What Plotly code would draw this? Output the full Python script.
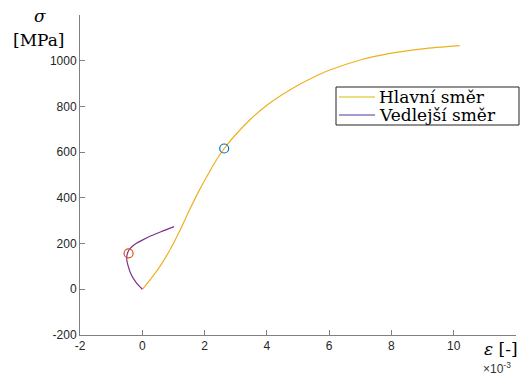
import plotly.graph_objects as go

# Data (strain in 1e-3, stress in MPa)
main_eps = [0, 0.3, 0.6, 0.9, 1.2, 1.5, 1.8, 2.1, 2.4, 2.63, 2.98, 3.46, 4.0, 4.5, 5.0, 5.5, 6.0, 7.0, 8.0, 9.0, 10.19]
main_sig = [0, 50, 107, 175, 255, 342, 425, 500, 570, 616, 674, 742, 805, 852, 893, 928, 958, 1003, 1033, 1052, 1066]

side_eps = [0, -0.2, -0.35, -0.45, -0.5, -0.47, -0.38, -0.2, 0.0, 0.3, 0.6, 1.02]
side_sig = [0, 30, 62, 100, 135, 160, 180, 200, 215, 235, 252, 274]

main_mark_eps = [2.63]
main_mark_sig = [616]
side_mark_eps = [-0.44]
side_mark_sig = [157]

x_ticks = [-2, 0, 2, 4, 6, 8, 10]
x_labels = ["-2", "0", "2", "4", "6", "8", "10"]
x_extra_ticks = [12]
y_ticks = [-200, 0, 200, 400, 600, 800, 1000]
y_labels = ["-200", "0", "200", "400", "600", "800", "1000"]
y_extra_ticks = [1200]

series_names = ["Hlavní směr", "Vedlejší směr"]
line_colors = ["#EDB120", "#7E2F8E"]
legend_colors = ["#D4C000", "#4B3A9E"]

fig = go.Figure()
fig.add_trace(go.Scatter(x=main_eps, y=main_sig, mode="lines", name=series_names[0],
                         line=dict(color=line_colors[0], width=1.2, shape="spline", smoothing=0.8),
                         showlegend=False))
fig.add_trace(go.Scatter(x=side_eps, y=side_sig, mode="lines", name=series_names[1],
                         line=dict(color=line_colors[1], width=1.2, shape="spline", smoothing=0.8),
                         showlegend=False))
fig.add_trace(go.Scatter(x=main_mark_eps, y=main_mark_sig, mode="markers",
                         marker=dict(symbol="circle-open", size=9, color="#0072BD", line=dict(width=1.2)),
                         showlegend=False))
fig.add_trace(go.Scatter(x=side_mark_eps, y=side_mark_sig, mode="markers",
                         marker=dict(symbol="circle-open", size=9, color="#D95319", line=dict(width=1.2)),
                         showlegend=False))

axis_common = dict(showgrid=False, zeroline=False, showline=True, linecolor="#808080", linewidth=1,
                   ticks="inside", ticklen=5, tickcolor="#808080", mirror=False,
                   tickfont=dict(family="Liberation Sans, Arial, sans-serif", size=12, color="#262626"))

fig.update_layout(
    width=526, height=376,
    margin=dict(l=80, r=10, t=15, b=41),
    paper_bgcolor="white", plot_bgcolor="white",
    xaxis=dict(range=[-2, 12], tickmode="array", tickvals=x_ticks, ticktext=x_labels,
               minor=dict(tickmode="array", tickvals=x_extra_ticks, ticks="inside", ticklen=5,
                          tickcolor="#808080", showgrid=False),
               **axis_common),
    yaxis=dict(range=[-200, 1200], tickmode="array", tickvals=y_ticks, ticktext=y_labels,
               minor=dict(tickmode="array", tickvals=y_extra_ticks, ticks="inside", ticklen=5,
                          tickcolor="#808080", showgrid=False),
               **axis_common),
    showlegend=False,
)

PW, PH = 436.0, 320.0


def px(xp):
    return (xp - 80) / PW


def py(yp):
    return (335 - yp) / PH


# legend box (drawn in paper coordinates)
fig.add_shape(type="rect", xref="paper", yref="paper", x0=px(336), x1=px(519), y0=py(125), y1=py(87),
              line=dict(color="#222222", width=1), fillcolor="white", layer="above")
leg_font = dict(family="DejaVu Serif, serif", size=17, color="black")
for i, (nm, col) in enumerate(zip(series_names, legend_colors)):
    yc = 97 + i * 18
    fig.add_shape(type="line", xref="paper", yref="paper", x0=px(339), x1=px(375), y0=py(yc), y1=py(yc),
                  line=dict(color=col, width=1.2), layer="above")
    fig.add_annotation(xref="paper", yref="paper", x=px(377), y=py(yc), text=nm, showarrow=False,
                       font=leg_font, xanchor="left", yanchor="middle")

ann_font = dict(family="DejaVu Serif, serif", size=17, color="black")
fig.add_annotation(xref="paper", yref="paper", x=px(40), y=py(16), text="<i>σ</i>",
                   showarrow=False, font=ann_font, xanchor="center", yanchor="middle")
fig.add_annotation(xref="paper", yref="paper", x=px(38), y=py(40), text="[MPa]",
                   showarrow=False, font=ann_font, xanchor="center", yanchor="middle")
fig.add_annotation(xref="paper", yref="paper", x=px(501), y=py(349), text="<i>ε</i> [-]",
                   showarrow=False, font=ann_font, xanchor="center", yanchor="middle")
fig.add_annotation(xref="paper", yref="paper", x=px(497), y=py(368), text="×10<sup>-3</sup>",
                   showarrow=False, font=dict(family="Liberation Sans, Arial, sans-serif", size=12, color="#333333"),
                   xanchor="center", yanchor="middle")

fig.write_html("out.html")
